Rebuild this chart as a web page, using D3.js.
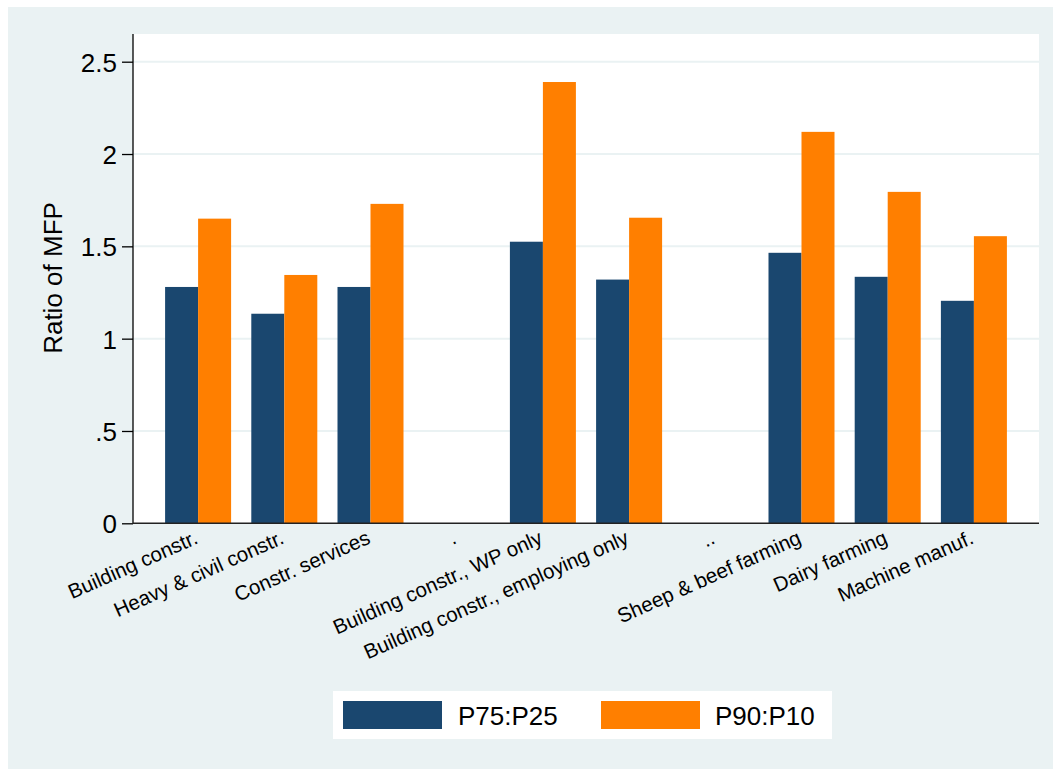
<!DOCTYPE html>
<html>
<head>
<meta charset="utf-8">
<script src="https://cdn.jsdelivr.net/npm/d3@7"></script>
<style>
  html, body { margin: 0; padding: 0; background: #ffffff; }
  svg { display: block; }
  text { font-family: "Liberation Sans", Arial, sans-serif; fill: #000; }
</style>
</head>
<body>
<svg id="chart" width="1053" height="769"></svg>
<script>
// ---- data ----
const categories = [
  "Building constr.",
  "Heavy & civil constr.",
  "Constr. services",
  ".",
  "Building constr., WP only",
  "Building constr., employing only",
  "..",
  "Sheep & beef farming",
  "Dairy farming",
  "Machine manuf."
];
const seriesNames = ["P75:P25", "P90:P10"];
const p75p25 = [1.28, 1.135, 1.28, null, 1.525, 1.32, null, 1.465, 1.335, 1.205];
const p90p10 = [1.65, 1.345, 1.73, null, 2.39, 1.655, null, 2.12, 1.795, 1.555];
const yTicks = [0, 0.5, 1, 1.5, 2, 2.5];
const yTickLabels = ["0", ".5", "1", "1.5", "2", "2.5"];
const yTitle = "Ratio of MFP";
const colors = ["#1a476f", "#ff7f00"];

// ---- layout ----
const svg = d3.select("#chart");
const W = 1053, H = 769;
const plot = { left: 133, right: 1039, top: 34, bottom: 523.3 };

svg.append("rect").attr("x", 0).attr("y", 0).attr("width", W).attr("height", H).attr("fill", "#ffffff");
svg.append("rect").attr("x", 8).attr("y", 7).attr("width", W - 8).attr("height", H - 7).attr("fill", "#eaf2f3");
svg.append("rect").attr("x", plot.left).attr("y", plot.top)
  .attr("width", plot.right - plot.left).attr("height", plot.bottom - plot.top).attr("fill", "#ffffff");

const y = d3.scaleLinear().domain([0, 2.5]).range([plot.bottom, 61.7]);

const step = 86.2, inner = 0.2343;
const outer = ((plot.right - plot.left) / step - categories.length + inner) / 2;
const x0 = d3.scaleBand().domain(d3.range(categories.length))
  .range([plot.left, plot.right]).paddingInner(inner).paddingOuter(outer);
const x1 = d3.scaleBand().domain(seriesNames).range([0, x0.bandwidth()]).padding(0);

// gridlines
svg.append("g").selectAll("line").data(yTicks.filter(d => d > 0)).join("line")
  .attr("x1", plot.left).attr("x2", plot.right)
  .attr("y1", d => y(d)).attr("y2", d => y(d))
  .attr("stroke", "#eaf2f3").attr("stroke-width", 2);

// bars
const rows = categories.map((c, i) => ({ i, vals: [p75p25[i], p90p10[i]] }));
const g = svg.append("g");
rows.forEach(r => {
  r.vals.forEach((v, k) => {
    if (v == null) return;
    g.append("rect")
      .attr("x", x0(r.i) + x1(seriesNames[k]))
      .attr("y", y(v))
      .attr("width", x1.bandwidth())
      .attr("height", y(0) - y(v))
      .attr("fill", colors[k]);
  });
});

// y axis
const yAxis = d3.axisLeft(y).tickValues(yTicks).tickSize(11).tickPadding(5)
  .tickFormat((d, i) => yTickLabels[i]);
const yg = svg.append("g").attr("transform", `translate(${plot.left},0)`).call(yAxis);
yg.select(".domain").attr("d", `M0,${plot.top}V${plot.bottom}`).attr("stroke", "#000").attr("stroke-width", 1.3);
yg.selectAll(".tick line").attr("stroke", "#000").attr("stroke-width", 1.3);
yg.selectAll(".tick text").attr("font-size", 26).attr("font-family", "Liberation Sans, Arial, sans-serif")
  .attr("fill", "#000").attr("dy", "0.36em");

// x axis line
svg.append("line").attr("x1", plot.left).attr("x2", plot.right)
  .attr("y1", plot.bottom).attr("y2", plot.bottom)
  .attr("stroke", "#222").attr("stroke-width", 1.5);

// x labels
svg.append("g").selectAll("text").data(categories).join("text")
  .attr("transform", (d, i) => `translate(${x0(i) + x0.bandwidth() / 2 + 1},${plot.bottom + 19.5}) rotate(-24)`)
  .attr("text-anchor", "end")
  .attr("font-size", 20.5)
  .text(d => d);

// y title
svg.append("text")
  .attr("transform", `translate(62,278) rotate(-90)`)
  .attr("text-anchor", "middle")
  .attr("font-size", 26)
  .text(yTitle);

// legend
const lg = svg.append("g");
lg.append("rect").attr("x", 333).attr("y", 691).attr("width", 499).attr("height", 48).attr("fill", "#ffffff");
const legendPos = [{ kx: 343, tx: 458 }, { kx: 601, tx: 715 }];
seriesNames.forEach((s, k) => {
  lg.append("rect").attr("x", legendPos[k].kx).attr("y", 701).attr("width", 99).attr("height", 28).attr("fill", colors[k]);
  lg.append("text").attr("x", legendPos[k].tx).attr("y", 725).attr("font-size", 26).text(s);
});
</script>
</body>
</html>
